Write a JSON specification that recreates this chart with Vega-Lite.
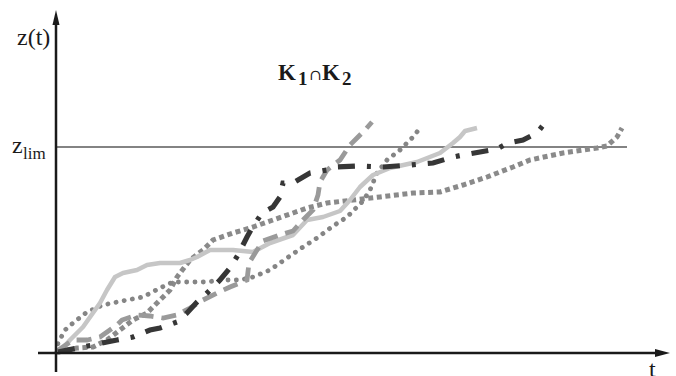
{
  "$schema": "https://vega.github.io/schema/vega-lite/v6.json",
  "width": 676,
  "height": 376,
  "autosize": {"type": "none"},
  "padding": 0,
  "background": "white",
  "config": {"view": {"stroke": null}},
  "datasets": {
    "paths": [
      {"s": "A", "i": 1, "t": 1, "z": 0}, {"s": "A", "i": 2, "t": 6, "z": 4}, {"s": "A", "i": 3, "t": 13, "z": 12}, {"s": "A", "i": 4, "t": 26, "z": 25}, {"s": "A", "i": 5, "t": 43, "z": 49}, {"s": "A", "i": 6, "t": 50, "z": 62}, {"s": "A", "i": 7, "t": 58, "z": 75}, {"s": "A", "i": 8, "t": 66, "z": 79}, {"s": "A", "i": 9, "t": 80, "z": 82}, {"s": "A", "i": 10, "t": 90, "z": 87}, {"s": "A", "i": 11, "t": 103, "z": 89}, {"s": "A", "i": 12, "t": 123, "z": 89}, {"s": "A", "i": 13, "t": 133, "z": 92}, {"s": "A", "i": 14, "t": 140, "z": 95}, {"s": "A", "i": 15, "t": 153, "z": 102}, {"s": "A", "i": 16, "t": 176, "z": 102}, {"s": "A", "i": 17, "t": 196, "z": 100}, {"s": "A", "i": 18, "t": 213, "z": 109}, {"s": "A", "i": 19, "t": 236, "z": 117}, {"s": "A", "i": 20, "t": 250, "z": 132}, {"s": "A", "i": 21, "t": 266, "z": 135}, {"s": "A", "i": 22, "t": 283, "z": 141}, {"s": "A", "i": 23, "t": 293, "z": 152}, {"s": "A", "i": 24, "t": 303, "z": 165}, {"s": "A", "i": 25, "t": 316, "z": 177}, {"s": "A", "i": 26, "t": 333, "z": 184}, {"s": "A", "i": 27, "t": 360, "z": 190}, {"s": "A", "i": 28, "t": 383, "z": 199}, {"s": "A", "i": 29, "t": 396, "z": 209}, {"s": "A", "i": 30, "t": 403, "z": 215}, {"s": "A", "i": 31, "t": 408, "z": 221}, {"s": "A", "i": 32, "t": 420, "z": 224},
      {"s": "B", "i": 1, "t": 0, "z": 1}, {"s": "B", "i": 2, "t": 16, "z": 12}, {"s": "B", "i": 3, "t": 30, "z": 12}, {"s": "B", "i": 4, "t": 43, "z": 15}, {"s": "B", "i": 5, "t": 60, "z": 27}, {"s": "B", "i": 6, "t": 65, "z": 32}, {"s": "B", "i": 7, "t": 80, "z": 37}, {"s": "B", "i": 8, "t": 93, "z": 36}, {"s": "B", "i": 9, "t": 106, "z": 34}, {"s": "B", "i": 10, "t": 120, "z": 37}, {"s": "B", "i": 11, "t": 133, "z": 44}, {"s": "B", "i": 12, "t": 146, "z": 52}, {"s": "B", "i": 13, "t": 160, "z": 59}, {"s": "B", "i": 14, "t": 173, "z": 65}, {"s": "B", "i": 15, "t": 190, "z": 72}, {"s": "B", "i": 16, "t": 192, "z": 89}, {"s": "B", "i": 17, "t": 200, "z": 102}, {"s": "B", "i": 18, "t": 206, "z": 111}, {"s": "B", "i": 19, "t": 223, "z": 117}, {"s": "B", "i": 20, "t": 236, "z": 121}, {"s": "B", "i": 21, "t": 246, "z": 132}, {"s": "B", "i": 22, "t": 256, "z": 142}, {"s": "B", "i": 23, "t": 261, "z": 157}, {"s": "B", "i": 24, "t": 263, "z": 170}, {"s": "B", "i": 25, "t": 270, "z": 182}, {"s": "B", "i": 26, "t": 283, "z": 192}, {"s": "B", "i": 27, "t": 293, "z": 207}, {"s": "B", "i": 28, "t": 301, "z": 215}, {"s": "B", "i": 29, "t": 308, "z": 222}, {"s": "B", "i": 30, "t": 315, "z": 230},
      {"s": "C", "i": 1, "t": 1, "z": 0}, {"s": "C", "i": 2, "t": 26, "z": 5}, {"s": "C", "i": 3, "t": 50, "z": 10}, {"s": "C", "i": 4, "t": 60, "z": 12}, {"s": "C", "i": 5, "t": 76, "z": 15}, {"s": "C", "i": 6, "t": 93, "z": 22}, {"s": "C", "i": 7, "t": 103, "z": 24}, {"s": "C", "i": 8, "t": 120, "z": 30}, {"s": "C", "i": 9, "t": 130, "z": 39}, {"s": "C", "i": 10, "t": 140, "z": 50}, {"s": "C", "i": 11, "t": 150, "z": 59}, {"s": "C", "i": 12, "t": 163, "z": 72}, {"s": "C", "i": 13, "t": 173, "z": 84}, {"s": "C", "i": 14, "t": 181, "z": 97}, {"s": "C", "i": 15, "t": 190, "z": 115}, {"s": "C", "i": 16, "t": 195, "z": 124}, {"s": "C", "i": 17, "t": 205, "z": 139}, {"s": "C", "i": 18, "t": 216, "z": 145}, {"s": "C", "i": 19, "t": 223, "z": 155}, {"s": "C", "i": 20, "t": 226, "z": 169}, {"s": "C", "i": 21, "t": 236, "z": 169}, {"s": "C", "i": 22, "t": 253, "z": 179}, {"s": "C", "i": 23, "t": 270, "z": 182}, {"s": "C", "i": 24, "t": 280, "z": 185}, {"s": "C", "i": 25, "t": 303, "z": 186}, {"s": "C", "i": 26, "t": 326, "z": 185}, {"s": "C", "i": 27, "t": 353, "z": 187}, {"s": "C", "i": 28, "t": 376, "z": 189}, {"s": "C", "i": 29, "t": 396, "z": 195}, {"s": "C", "i": 30, "t": 406, "z": 197}, {"s": "C", "i": 31, "t": 423, "z": 200}, {"s": "C", "i": 32, "t": 440, "z": 203}, {"s": "C", "i": 33, "t": 451, "z": 209}, {"s": "C", "i": 34, "t": 466, "z": 212}, {"s": "C", "i": 35, "t": 480, "z": 219}, {"s": "C", "i": 36, "t": 487, "z": 228},
      {"s": "D", "i": 1, "t": 0, "z": 0}, {"s": "D", "i": 2, "t": 1, "z": 9}, {"s": "D", "i": 3, "t": 8, "z": 22}, {"s": "D", "i": 4, "t": 16, "z": 29}, {"s": "D", "i": 5, "t": 30, "z": 40}, {"s": "D", "i": 6, "t": 46, "z": 47}, {"s": "D", "i": 7, "t": 70, "z": 52}, {"s": "D", "i": 8, "t": 86, "z": 55}, {"s": "D", "i": 9, "t": 103, "z": 64}, {"s": "D", "i": 10, "t": 116, "z": 70}, {"s": "D", "i": 11, "t": 133, "z": 70}, {"s": "D", "i": 12, "t": 150, "z": 70}, {"s": "D", "i": 13, "t": 163, "z": 72}, {"s": "D", "i": 14, "t": 183, "z": 72}, {"s": "D", "i": 15, "t": 196, "z": 75}, {"s": "D", "i": 16, "t": 213, "z": 82}, {"s": "D", "i": 17, "t": 230, "z": 94}, {"s": "D", "i": 18, "t": 246, "z": 105}, {"s": "D", "i": 19, "t": 260, "z": 114}, {"s": "D", "i": 20, "t": 276, "z": 126}, {"s": "D", "i": 21, "t": 290, "z": 135}, {"s": "D", "i": 22, "t": 300, "z": 145}, {"s": "D", "i": 23, "t": 306, "z": 151}, {"s": "D", "i": 24, "t": 313, "z": 162}, {"s": "D", "i": 25, "t": 320, "z": 179}, {"s": "D", "i": 26, "t": 330, "z": 192}, {"s": "D", "i": 27, "t": 343, "z": 202}, {"s": "D", "i": 28, "t": 356, "z": 215}, {"s": "D", "i": 29, "t": 363, "z": 224},
      {"s": "E", "i": 1, "t": 0, "z": 0}, {"s": "E", "i": 2, "t": 20, "z": 4}, {"s": "E", "i": 3, "t": 36, "z": 5}, {"s": "E", "i": 4, "t": 50, "z": 12}, {"s": "E", "i": 5, "t": 63, "z": 22}, {"s": "E", "i": 6, "t": 76, "z": 32}, {"s": "E", "i": 7, "t": 90, "z": 39}, {"s": "E", "i": 8, "t": 103, "z": 52}, {"s": "E", "i": 9, "t": 113, "z": 62}, {"s": "E", "i": 10, "t": 120, "z": 75}, {"s": "E", "i": 11, "t": 133, "z": 92}, {"s": "E", "i": 12, "t": 146, "z": 102}, {"s": "E", "i": 13, "t": 156, "z": 112}, {"s": "E", "i": 14, "t": 176, "z": 119}, {"s": "E", "i": 15, "t": 196, "z": 125}, {"s": "E", "i": 16, "t": 216, "z": 132}, {"s": "E", "i": 17, "t": 236, "z": 139}, {"s": "E", "i": 18, "t": 250, "z": 144}, {"s": "E", "i": 19, "t": 270, "z": 149}, {"s": "E", "i": 20, "t": 296, "z": 152}, {"s": "E", "i": 21, "t": 323, "z": 155}, {"s": "E", "i": 22, "t": 356, "z": 159}, {"s": "E", "i": 23, "t": 383, "z": 160}, {"s": "E", "i": 24, "t": 406, "z": 167}, {"s": "E", "i": 25, "t": 430, "z": 175}, {"s": "E", "i": 26, "t": 456, "z": 185}, {"s": "E", "i": 27, "t": 473, "z": 192}, {"s": "E", "i": 28, "t": 506, "z": 199}, {"s": "E", "i": 29, "t": 540, "z": 204}, {"s": "E", "i": 30, "t": 550, "z": 206}, {"s": "E", "i": 31, "t": 560, "z": 215}, {"s": "E", "i": 32, "t": 565, "z": 224}
    ],
    "axes": [
      {"name": "z axis", "t": -1, "z": -20, "t2": -1, "z2": 330},
      {"name": "t axis", "t": -19, "z": -1, "t2": 600, "z2": -1}
    ],
    "zlim": [{"t": -1, "z": 205, "t2": 570, "z2": 205}],
    "arrowUp": [{"t": -1, "z": 334.5}],
    "arrowRight": [{"t": 605.5, "z": -1}],
    "labels": [
      {"text": "z(t)", "t": -40, "z": 307},
      {"text": "z", "t": -45, "z": 199},
      {"text": "t", "t": 592, "z": -25}
    ],
    "sub": [{"text": "lim", "t": -34, "z": 193}],
    "titleK": [{"text": "K", "t": 221, "z": 272}, {"text": "K", "t": 265, "z": 272}],
    "titleSub": [{"text": "1", "t": 241, "z": 267}, {"text": "2", "t": 285, "z": 267}],
    "titleCap": [{"text": "∩", "t": 252, "z": 272}]
  },
  "encoding": {
    "x": {"field": "t", "type": "quantitative", "scale": {"domain": [-57, 619], "nice": false, "zero": false}, "axis": null},
    "y": {"field": "z", "type": "quantitative", "scale": {"domain": [-24, 352], "nice": false, "zero": false}, "axis": null}
  },
  "layer": [
    {
      "data": {"name": "zlim"},
      "mark": {"type": "rule", "color": "#5a5a5a", "strokeWidth": 1.6},
      "encoding": {"x2": {"field": "t2"}, "y2": {"field": "z2"}}
    },
    {
      "data": {"name": "paths"},
      "transform": [{"filter": "datum.s === 'E'"}],
      "mark": {"type": "line", "color": "#8a8a8a", "strokeWidth": 5, "strokeDash": [5, 3.6], "strokeCap": "butt"},
      "encoding": {"order": {"field": "i"}}
    },
    {
      "data": {"name": "paths"},
      "transform": [{"filter": "datum.s === 'D'"}],
      "mark": {"type": "line", "color": "#858585", "strokeWidth": 4.8, "strokeDash": [0.1, 8.2], "strokeCap": "round"},
      "encoding": {"order": {"field": "i"}}
    },
    {
      "data": {"name": "paths"},
      "transform": [{"filter": "datum.s === 'A'"}],
      "mark": {"type": "line", "color": "#c6c6c6", "strokeWidth": 4.5, "strokeJoin": "round"},
      "encoding": {"order": {"field": "i"}}
    },
    {
      "data": {"name": "paths"},
      "transform": [{"filter": "datum.s === 'B'"}],
      "mark": {"type": "line", "color": "#9a9a9a", "strokeWidth": 4.8, "strokeDash": [15, 8]},
      "encoding": {"order": {"field": "i"}}
    },
    {
      "data": {"name": "paths"},
      "transform": [{"filter": "datum.s === 'C'"}],
      "mark": {"type": "line", "color": "#363636", "strokeWidth": 5.2, "strokeDash": [17, 12, 4, 12]},
      "encoding": {"order": {"field": "i"}}
    },
    {
      "data": {"name": "axes"},
      "mark": {"type": "rule", "color": "#1a1a1a", "strokeWidth": 2.5},
      "encoding": {"x2": {"field": "t2"}, "y2": {"field": "z2"}}
    },
    {
      "data": {"name": "arrowUp"},
      "mark": {"type": "point", "shape": "M0,-1L0.47,1L-0.47,1Z", "filled": true, "color": "#1a1a1a", "size": 225, "opacity": 1}
    },
    {
      "data": {"name": "arrowRight"},
      "mark": {"type": "point", "shape": "M1,0L-1,0.53L-1,-0.53Z", "filled": true, "color": "#1a1a1a", "size": 225, "opacity": 1}
    },
    {
      "data": {"name": "labels"},
      "mark": {"type": "text", "font": "Liberation Serif", "fontSize": 24, "align": "left", "baseline": "alphabetic", "color": "#1a1a1a"},
      "encoding": {"text": {"field": "text"}}
    },
    {
      "data": {"name": "sub"},
      "mark": {"type": "text", "font": "Liberation Serif", "fontSize": 17, "align": "left", "baseline": "alphabetic", "color": "#1a1a1a"},
      "encoding": {"text": {"field": "text"}}
    },
    {
      "data": {"name": "titleK"},
      "mark": {"type": "text", "font": "Liberation Serif", "fontSize": 23, "fontWeight": "bold", "align": "left", "baseline": "alphabetic", "color": "#1a1a1a"},
      "encoding": {"text": {"field": "text"}}
    },
    {
      "data": {"name": "titleSub"},
      "mark": {"type": "text", "font": "Liberation Serif", "fontSize": 19, "fontWeight": "bold", "align": "left", "baseline": "alphabetic", "color": "#1a1a1a"},
      "encoding": {"text": {"field": "text"}}
    },
    {
      "data": {"name": "titleCap"},
      "mark": {"type": "text", "font": "DejaVu Serif", "fontSize": 15, "align": "left", "baseline": "alphabetic", "color": "#1a1a1a"},
      "encoding": {"text": {"field": "text"}}
    }
  ]
}
